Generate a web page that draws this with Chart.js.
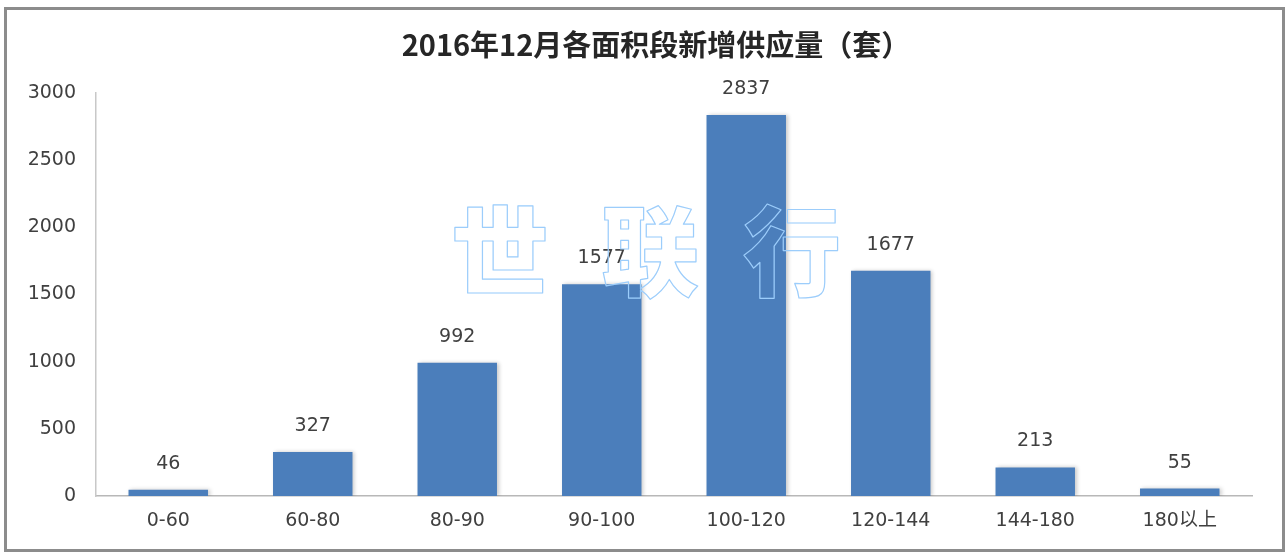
<!DOCTYPE html>
<html lang="zh-CN">
<head>
  <meta charset="UTF-8">
  <title>2016年12月各面积段新增供应量</title>
  <script src="https://cdn.jsdelivr.net/npm/chart.js@4.4.1/dist/chart.umd.min.js"></script>
  <style>
    html, body { margin: 0; padding: 0; background: #fff; }
    #wrap { position: relative; width: 1288px; height: 553px; }
    #frame {
      position: absolute; left: 4px; top: 7px; width: 1275px; height: 539px;
      border: 3px solid #8c8c8c; pointer-events: none;
    }
    canvas { position: absolute; left: 0; top: 0; }
  </style>
</head>
<body>
  <div id="wrap">
    <canvas id="c" width="1288" height="553"></canvas>
    <div id="frame"></div>
  </div>

  <script>
    const categories = ['0-60', '60-80', '80-90', '90-100', '100-120', '120-144', '144-180', '180以上'];
    const supply = [46, 327, 992, 1577, 2837, 1677, 213, 55];
    const yTicks = [0, 500, 1000, 1500, 2000, 2500, 3000];
    const titleText = '2016年12月各面积段新增供应量（套）';
    const watermark = ['世', '联', '行'];

    const tickFont = { family: "'DejaVu Sans', sans-serif", size: 19 };

    // title, placed where the office chart had it
    const titlePlugin = {
      id: 'titleText',
      afterDraw(chart) {
        const ctx = chart.ctx;
        ctx.save();
        ctx.font = "bold 29px 'Noto Sans CJK SC', sans-serif";
        ctx.fillStyle = '#262626';
        ctx.textAlign = 'center';
        ctx.textBaseline = 'middle';
        ctx.fillText(titleText, 656, 45);
        ctx.restore();
      }
    };

    // value labels above the bars
    const valueLabels = {
      id: 'valueLabels',
      afterDatasetsDraw(chart) {
        const ctx = chart.ctx;
        const meta = chart.getDatasetMeta(0);
        ctx.save();
        ctx.font = "19px 'DejaVu Sans', sans-serif";
        ctx.fillStyle = '#404040';
        ctx.textAlign = 'center';
        ctx.textBaseline = 'middle';
        meta.data.forEach((bar, i) => {
          ctx.fillText(String(supply[i]), bar.x, bar.y - 26);
        });
        ctx.restore();
      }
    };

    // soft shadow like the office chart
    const barShadow = {
      id: 'barShadow',
      beforeDatasetDraw(chart) {
        const ctx = chart.ctx;
        ctx.save();
        ctx.shadowColor = 'rgba(0,0,0,0.22)';
        ctx.shadowBlur = 4;
        ctx.shadowOffsetX = 2;
        ctx.shadowOffsetY = 0;
      },
      afterDatasetDraw(chart) {
        chart.ctx.restore();
      }
    };

    // outlined watermark
    const watermarkPlugin = {
      id: 'watermark',
      afterDraw(chart) {
        const ctx = chart.ctx;
        const xs = [500, 650, 792];
        ctx.save();
        ctx.font = "900 98px 'Noto Sans CJK SC', sans-serif";
        ctx.textAlign = 'center';
        ctx.textBaseline = 'middle';
        ctx.strokeStyle = '#9ccdfb';
        ctx.lineWidth = 1.2;
        ctx.lineJoin = 'round';
        watermark.forEach((ch, i) => ctx.strokeText(ch, xs[i], 251));
        ctx.restore();
      }
    };

    new Chart(document.getElementById('c'), {
      type: 'bar',
      data: {
        labels: categories,
        datasets: [{
          data: supply,
          backgroundColor: '#4b7ebb',
          borderWidth: 0,
          categoryPercentage: 1,
          barPercentage: 0.55
        }]
      },
      options: {
        responsive: false,
        animation: false,
        layout: { padding: { left: 0, right: 36, top: 93, bottom: 0 } },
        plugins: {
          legend: { display: false },
          tooltip: { enabled: false },
          title: { display: false }
        },
        scales: {
          x: {
            grid: { display: false, drawTicks: false },
            border: { display: true, color: '#b8b8b8', width: 1.5 },
            ticks: { color: '#404040', font: tickFont, padding: 14, maxRotation: 0 },
            afterFit(scale) { scale.height = 553 - 496; }
          },
          y: {
            min: 0,
            max: 3000,
            afterBuildTicks(scale) { scale.ticks = yTicks.map(v => ({ value: v })); },
            grid: { display: false, drawTicks: false },
            border: { display: true, color: '#c8c8c8', width: 1.5 },
            ticks: { color: '#404040', font: tickFont, padding: 20, callback: v => String(v) },
            afterFit(scale) { scale.width = 96; }
          }
        }
      },
      plugins: [barShadow, valueLabels, watermarkPlugin, titlePlugin]
    });
  </script>
</body>
</html>
